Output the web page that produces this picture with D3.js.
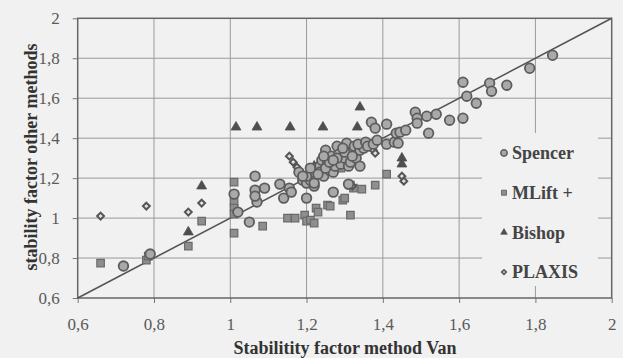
<!DOCTYPE html>
<html>
<head>
<meta charset="utf-8">
<script src="https://cdn.jsdelivr.net/npm/d3@7"></script>
<style>
  body { margin: 0; background: #f1f1f1; }
  svg { display: block; }
</style>
</head>
<body>
<script>
// values: [Van, other method]
const spencer = [
  [0.72,0.76],[0.79,0.82],[1.01,1.12],[1.02,1.03],[1.05,0.98],[1.065,1.21],[1.065,1.14],[1.09,1.15],
  [1.07,1.08],[1.065,1.11],[1.13,1.17],[1.14,1.10],[1.155,1.15],[1.16,1.13],[1.18,1.23],[1.19,1.19],
  [1.20,1.10],[1.20,1.175],[1.21,1.19],[1.215,1.23],[1.22,1.16],[1.22,1.175],[1.225,1.25],[1.235,1.26],
  [1.235,1.23],[1.24,1.29],[1.245,1.21],[1.25,1.34],[1.255,1.27],[1.26,1.24],[1.265,1.31],[1.27,1.13],
  [1.27,1.23],[1.275,1.26],[1.28,1.36],[1.285,1.32],[1.29,1.27],[1.30,1.30],[1.305,1.375],[1.31,1.26],
  [1.31,1.17],[1.315,1.28],[1.32,1.33],[1.325,1.36],[1.33,1.30],[1.34,1.26],[1.34,1.34],[1.35,1.35],
  [1.20,1.21],[1.23,1.22],[1.25,1.25],[1.26,1.28],[1.28,1.30],[1.30,1.33],[1.32,1.31],[1.27,1.29],
  [1.295,1.35],[1.335,1.37],[1.355,1.38],[1.36,1.36],[1.21,1.25],[1.245,1.31],[1.19,1.21],
  [1.37,1.48],[1.375,1.37],[1.38,1.45],[1.385,1.39],[1.41,1.47],[1.41,1.37],[1.43,1.38],[1.435,1.425],
  [1.44,1.375],[1.445,1.43],[1.46,1.44],[1.485,1.53],[1.49,1.50],[1.49,1.475],[1.515,1.51],[1.52,1.425],
  [1.54,1.52],[1.575,1.49],[1.61,1.68],[1.61,1.50],[1.62,1.61],[1.645,1.575],[1.68,1.675],[1.685,1.635],
  [1.725,1.665],[1.785,1.75],[1.845,1.815]
];
const mlift = [
  [0.66,0.775],[0.78,0.79],[0.785,0.81],[0.89,0.86],[0.925,0.985],[1.01,0.925],[1.01,1.18],[1.01,1.08],
  [1.01,1.05],[1.01,1.02],[1.085,0.96],[1.15,1.0],[1.17,1.0],[1.195,1.015],[1.20,0.985],[1.21,0.99],
  [1.22,0.975],[1.225,1.05],[1.23,1.03],[1.255,1.065],[1.262,1.06],[1.295,1.09],[1.30,1.10],[1.315,1.015],
  [1.315,1.165],[1.323,1.15],[1.345,1.145],[1.38,1.165],[1.41,1.22],[1.27,1.30],[1.29,1.25]
];
const bishop = [
  [0.89,0.93],[0.925,1.16],[1.015,1.455],[1.07,1.455],[1.157,1.455],[1.243,1.455],[1.333,1.455],
  [1.34,1.555],[1.45,1.30],[1.45,1.27],[1.22,1.26],[1.31,1.32]
];
const plaxis = [
  [0.66,1.01],[0.78,1.06],[0.89,1.03],[0.925,1.075],[1.155,1.31],[1.165,1.28],[1.175,1.255],[1.185,1.23],
  [1.375,1.34],[1.38,1.325],[1.32,1.16],[1.45,1.21],[1.455,1.185]
];
const ticks = [0.6, 0.8, 1, 1.2, 1.4, 1.6, 1.8, 2];
const seriesNames = ["Spencer", "MLift +", "Bishop", "PLAXIS"];

const width = 623;
const height = 358;
const marginTop = 18.3;
const marginRight = 11.3;
const marginBottom = 60;
const marginLeft = 77.7;
const bg = "#f1f1f1";
const serif = "Liberation Serif, Times New Roman, serif";

const x = d3.scaleLinear().domain([0.6, 2]).range([marginLeft, width - marginRight]);
const y = d3.scaleLinear().domain([0.6, 2]).range([height - marginBottom, marginTop]);
const fmt = d => String(d).replace(".", ",");

const svg = d3.create("svg").attr("width", width).attr("height", height);
svg.append("rect").attr("width", width).attr("height", height).attr("fill", bg);

// grid
svg.append("g")
  .attr("stroke", "#9a9a9a")
  .attr("stroke-width", 1)
  .call(g => g.selectAll(".v").data(ticks.slice(1, -1)).join("line")
    .attr("x1", d => x(d)).attr("x2", d => x(d))
    .attr("y1", y(2)).attr("y2", y(0.6)))
  .call(g => g.selectAll(".h").data(ticks.slice(1, -1)).join("line")
    .attr("x1", x(0.6)).attr("x2", x(2))
    .attr("y1", d => y(d)).attr("y2", d => y(d)));

// axes
svg.append("g")
  .attr("transform", `translate(0,${y(0.6)})`)
  .call(d3.axisBottom(x).tickValues(ticks).tickFormat(fmt).tickSize(5).tickSizeOuter(0).tickPadding(15))
  .call(g => g.select(".domain").remove());
svg.append("g")
  .attr("transform", `translate(${x(0.6)},0)`)
  .call(d3.axisLeft(y).tickValues(ticks).tickFormat(fmt).tickSize(5).tickSizeOuter(0).tickPadding(13))
  .call(g => g.select(".domain").remove());
svg.selectAll(".tick line").attr("stroke", "#777");
svg.selectAll(".tick text")
  .attr("font-family", serif)
  .attr("font-size", 17)
  .attr("fill", "#5a5a5a");

// legend box hides the grid behind it
svg.append("rect")
  .attr("x", 482).attr("y", 133).attr("width", 116).attr("height", 153)
  .attr("fill", bg);

// plot frame
svg.append("rect")
  .attr("x", x(0.6)).attr("y", y(2))
  .attr("width", x(2) - x(0.6)).attr("height", y(0.6) - y(2))
  .attr("fill", "none").attr("stroke", "#666").attr("stroke-width", 1.5);

// 1:1 line
svg.append("line")
  .attr("x1", x(0.6)).attr("y1", y(0.6)).attr("x2", x(2)).attr("y2", y(2))
  .attr("stroke", "#555").attr("stroke-width", 1.6);

const styles = [
  { data: spencer, type: d3.symbolCircle, size: 72, fill: "#a9a9a9", stroke: "#5c5c5c", sw: 1.8 },
  { data: mlift, type: d3.symbolSquare, size: 56, fill: "#8e8e8e", stroke: "#6a6a6a", sw: 1.2 },
  { data: bishop, type: d3.symbolTriangle, size: 42, fill: "#4e4e4e", stroke: "#4e4e4e", sw: 0.8 },
  { data: plaxis, type: d3.symbolDiamond2, size: 30, fill: "#e2e2e2", stroke: "#555", sw: 2 }
];
const order = [1, 3, 2, 0];
order.forEach(i => {
  const s = styles[i];
  svg.append("g")
    .selectAll("path")
    .data(s.data)
    .join("path")
    .attr("transform", d => `translate(${x(d[0])},${y(d[1])})`)
    .attr("d", d3.symbol(s.type, s.size))
    .attr("fill", s.fill)
    .attr("stroke", s.stroke)
    .attr("stroke-width", s.sw);
});

// legend
const leg = svg.append("g").attr("transform", "translate(504,153)");
seriesNames.forEach((name, i) => {
  const s = styles[i];
  const row = leg.append("g").attr("transform", `translate(0,${i * 39.7})`);
  row.append("path")
    .attr("d", d3.symbol(s.type, s.size * 0.45))
    .attr("fill", s.fill).attr("stroke", s.stroke).attr("stroke-width", s.sw * 0.8);
  row.append("text")
    .attr("x", 8).attr("dy", "0.35em")
    .attr("font-family", serif)
    .attr("font-weight", "bold").attr("font-size", 18)
    .attr("fill", "#444")
    .text(name);
});

// axis titles
svg.append("text")
  .attr("x", 345).attr("y", 354)
  .attr("text-anchor", "middle")
  .attr("font-family", serif)
  .attr("font-weight", "bold").attr("font-size", 18)
  .attr("fill", "#333")
  .text("Stabilitity factor method Van");
svg.append("text")
  .attr("transform", "translate(31,157) rotate(-90)")
  .attr("text-anchor", "middle")
  .attr("dy", "0.35em")
  .attr("font-family", serif)
  .attr("font-weight", "bold").attr("font-size", 18)
  .attr("fill", "#333")
  .text("stability factor other methods");

document.body.appendChild(svg.node());
</script>
</body>
</html>
